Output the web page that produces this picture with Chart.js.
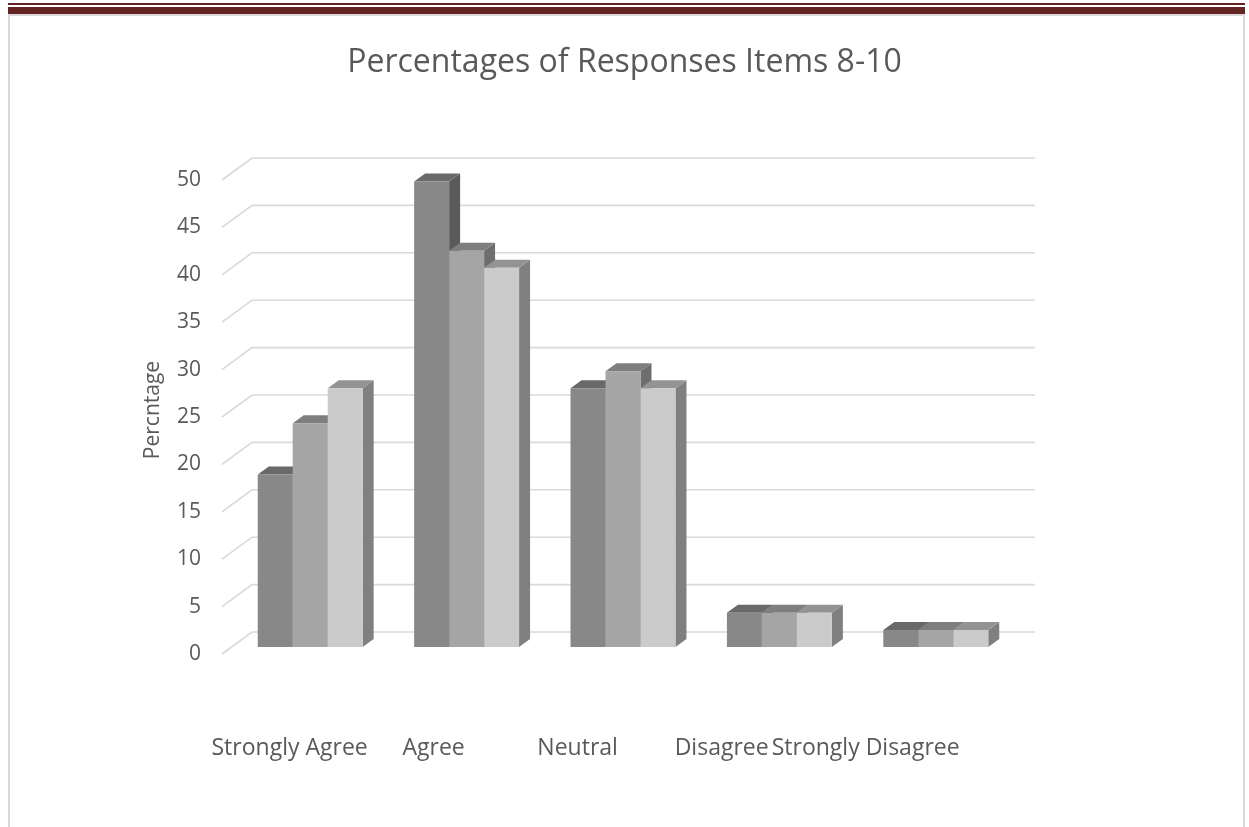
<!DOCTYPE html>
<html>
<head>
<meta charset="utf-8">
<script src="https://cdn.jsdelivr.net/npm/chart.js@4/dist/chart.umd.min.js"></script>
<style>
  html, body { margin: 0; padding: 0; background: #fff; }
  body { width: 1249px; height: 827px; position: relative; overflow: hidden; }
  #chart { position: absolute; left: 0; top: 0; }
  .rule-thin { position: absolute; left: 8px; right: 4px; top: 3px; height: 2px; background: #632423; }
  .rule-thick { position: absolute; left: 8px; right: 4px; top: 7px; height: 7px; background: #632423; }
  .frame { position: absolute; left: 8px; right: 4px; top: 14px; bottom: -2px;
           border: 2px solid #d9d9d9; border-bottom: none; }
</style>
</head>
<body>
<div class="rule-thin"></div>
<div class="rule-thick"></div>
<div class="frame"></div>
<canvas id="chart" width="1249" height="827"></canvas>
<script>
  const categories = ["Strongly Agree", "Agree", "Neutral", "Disagree", "Strongly Disagree"];
  const item8 = [18.2, 49.1, 27.3, 3.6, 1.8];
  const item9 = [23.6, 41.8, 29.1, 3.6, 1.8];
  const item10 = [27.3, 40.0, 27.3, 3.6, 1.8];
  const yMin = 0;
  const yMax = 50;
  const yStep = 5;

  const fronts = ["#888888", "#a5a5a5", "#cbcbcb"];
  const tops = ["#696969", "#7e7e7e", "#939393"];
  const sides = ["#5a5a5a", "#6e6e6e", "#808080"];
  const textColor = "#595959";
  const font = "'Open Sans', 'DejaVu Sans', sans-serif";

  // fake 3D: bar depth and floor depth in px
  const barDepth = { dx: 11, dy: 8 };
  const wall = { backDx: 20, backDy: 15, frontDx: 10, frontDy: 7, rightDx: 21 };

  const threeD = {
    id: "threeD",
    beforeDatasetsDraw(chart) {
      const { ctx, chartArea: a } = chart;
      const ys = chart.scales.y;
      ctx.save();

      // back wall gridlines + diagonal floor lines
      ctx.strokeStyle = "#d9d9d9";
      ctx.lineWidth = 1.6;
      ys.ticks.forEach((t) => {
        const yb = ys.getPixelForValue(t.value);
        ctx.beginPath();
        ctx.moveTo(a.left - wall.frontDx, yb + wall.frontDy);
        ctx.lineTo(a.left + wall.backDx, yb - wall.backDy);
        ctx.lineTo(a.right + wall.rightDx, yb - wall.backDy);
        ctx.stroke();
      });

      // side + top faces, left to right so the front faces cover correctly
      const metas = chart.data.datasets.map((d, i) => chart.getDatasetMeta(i));
      for (let c = 0; c < categories.length; c++) {
        metas.forEach((meta, j) => {
          const el = meta.data[c];
          const x0 = el.x - el.width / 2;
          const x1 = el.x + el.width / 2;
          const top = el.y;
          const base = el.base;
          ctx.fillStyle = sides[j];
          ctx.beginPath();
          ctx.moveTo(x1, top);
          ctx.lineTo(x1 + barDepth.dx, top - barDepth.dy);
          ctx.lineTo(x1 + barDepth.dx, base - barDepth.dy);
          ctx.lineTo(x1, base);
          ctx.closePath();
          ctx.fill();
          ctx.fillStyle = tops[j];
          ctx.beginPath();
          ctx.moveTo(x0, top);
          ctx.lineTo(x1, top);
          ctx.lineTo(x1 + barDepth.dx, top - barDepth.dy);
          ctx.lineTo(x0 + barDepth.dx, top - barDepth.dy);
          ctx.closePath();
          ctx.fill();
        });
      }
      ctx.restore();
    },
  };

  new Chart(document.getElementById("chart"), {
    type: "bar",
    data: {
      labels: categories,
      datasets: [
        { label: "Item 8", data: item8, backgroundColor: fronts[0] },
        { label: "Item 9", data: item9, backgroundColor: fronts[1] },
        { label: "Item 10", data: item10, backgroundColor: fronts[2] },
      ],
    },
    options: {
      responsive: false,
      animation: false,
      layout: { padding: 0 },
      datasets: { bar: { categoryPercentage: 0.671, barPercentage: 1.0 } },
      plugins: {
        legend: { display: false },
        tooltip: { enabled: false },
        title: {
          display: true,
          text: "Percentages of Responses Items 8-10",
          color: textColor,
          font: { family: font, size: 32, weight: "normal", lineHeight: 1.2 },
          padding: { top: 44, bottom: 90.6 },
        },
      },
      scales: {
        x: {
          grid: { display: false },
          border: { display: false },
          ticks: { display: false },
          afterFit(s) { s.height = 0; },
        },
        // label row: Excel spaces these tighter than the bar groups
        xLabels: {
          type: "linear",
          position: "bottom",
          bounds: "data",
          offset: false,
          grid: { display: false },
          border: { display: false },
          afterDataLimits(s) { s.min = 0.6; s.max = 6.03; },
          afterBuildTicks(s) {
            s.ticks = categories.map((c, i) => ({ value: i + 1 }));
          },
          ticks: {
            color: textColor,
            font: { family: font, size: 23 },
            padding: 80,
            maxRotation: 0,
            autoSkip: false,
            callback: (v) => categories[v - 1] || "",
          },
          afterFit(s) { s.height = 180; },
        },
        y: {
          min: yMin,
          max: yMax,
          grid: { display: false, drawTicks: false },
          border: { display: false },
          ticks: {
            stepSize: yStep,
            color: textColor,
            font: { family: font, size: 21 },
            padding: 31,
            labelOffset: 7,
          },
          title: {
            display: true,
            text: "Percntage",
            color: textColor,
            font: { family: font, size: 21 },
            padding: { top: 140, bottom: 0 },
          },
          afterFit(s) { s.width = 232; },
        },
        // empty spacer on the right so the plot ends where the reference does
        spacer: {
          type: "linear",
          position: "right",
          grid: { display: false },
          border: { display: false },
          ticks: { display: false },
          afterFit(s) { s.width = 235; },
        },
      },
    },
    plugins: [threeD],
  });
</script>
</body>
</html>
